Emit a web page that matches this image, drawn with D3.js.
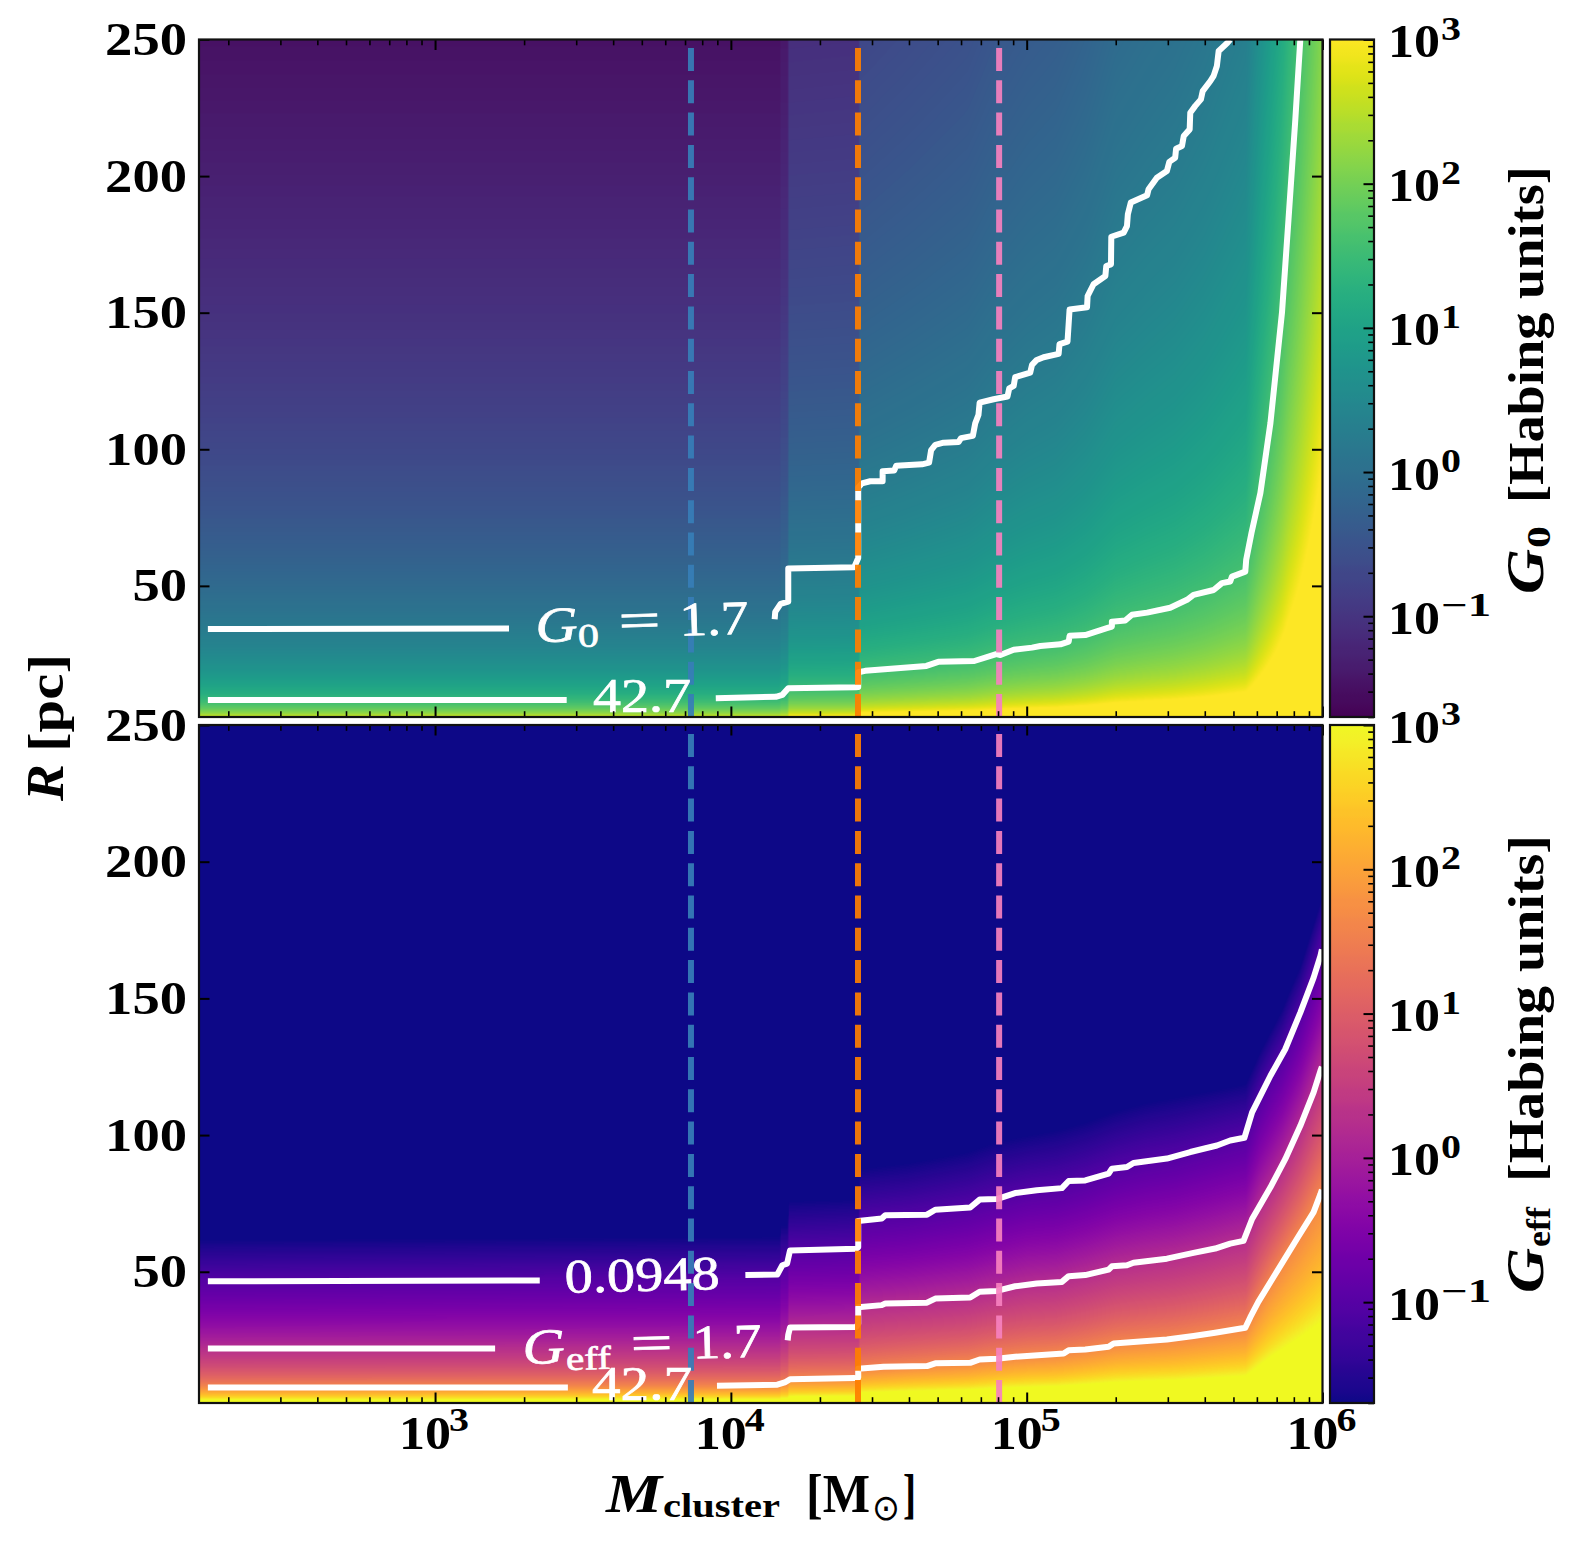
<!DOCTYPE html>
<html>
<head>
<meta charset="utf-8">
<script src="https://cdn.jsdelivr.net/npm/d3@7"></script>
<style>
html,body{margin:0;padding:0;background:#fff}
svg{display:block}
text{font-family:"Liberation Serif",serif;font-weight:bold;fill:#000}
</style>
</head>
<body>
<div id="chart"></div>
<script>
// ---------- values ----------
const massLog = [2.20,4.165,4.17,4.192,4.196,4.432,4.436,4.60,4.80,4.90,5.00,5.10,5.20,5.30,5.40,5.50,5.60,5.74,5.79,5.824,5.863,5.885,5.925,6.00];

// upper panel: log10 G0 per radius row, per mass column
const g0Radii = [2,4,8,16,32,64,125,250];
const g0AtR2   = [2.71,2.71,2.80,2.80,3.13,3.14,3.51,3.58,3.67,3.77,3.84,3.89,3.99,4.13,4.20,4.26,4.35,4.51,4.88,5.11,5.38,5.56,5.83,6.36];
const g0AtR4   = [2.11,2.11,2.20,2.20,2.53,2.54,2.91,2.98,3.07,3.17,3.24,3.29,3.39,3.53,3.60,3.66,3.75,3.91,4.28,4.51,4.78,4.96,5.23,5.76];
const g0AtR8   = [1.50,1.50,1.59,1.59,1.92,1.93,2.30,2.37,2.46,2.56,2.63,2.68,2.78,2.92,2.99,3.05,3.14,3.30,3.67,3.90,4.17,4.35,4.62,5.15];
const g0AtR16  = [0.90,0.90,0.99,0.99,1.32,1.33,1.70,1.77,1.86,1.96,2.03,2.08,2.18,2.32,2.39,2.45,2.54,2.70,3.07,3.30,3.57,3.75,4.02,4.55];
const g0AtR32  = [0.30,0.30,0.39,0.39,0.72,0.73,1.10,1.17,1.26,1.36,1.43,1.48,1.58,1.72,1.79,1.85,1.94,2.10,2.47,2.70,2.97,3.15,3.42,3.95];
const g0AtR64  = [-0.30,-0.30,-0.21,-0.21,0.12,0.13,0.50,0.57,0.66,0.76,0.83,0.88,0.98,1.12,1.19,1.25,1.34,1.50,1.87,2.10,2.37,2.55,2.82,3.35];
const g0AtR125 = [-0.88,-0.88,-0.79,-0.79,-0.46,-0.45,-0.08,-0.01,0.08,0.18,0.25,0.30,0.40,0.54,0.61,0.67,0.76,0.92,1.29,1.52,1.79,1.97,2.24,2.77];
const g0AtR250 = [-1.49,-1.49,-1.40,-1.40,-1.07,-1.06,-0.69,-0.62,-0.53,-0.43,-0.36,-0.31,-0.21,-0.07,0.00,0.06,0.15,0.31,0.68,0.91,1.18,1.36,1.63,2.16];

// lower panel: radius (pc) at which log10 Geff reaches a level, per mass column
const geffLevels = [3,2.67,2,1.63,0.23,-1.023,-1.7];
const geffR3000 = [3.2,3.3,3.7,3.7,4.4,4.5,5.8,6.3,6.8,7.4,7.8,8.1,8.8,9.6,10,10.3,11,11.9,16,18.8,21.6,23.2,26,32];
const geffR267  = [4.0,4.2,4.6,4.6,5.5,5.7,7.3,7.9,8.5,9.3,9.8,10.1,11,12,12.5,12.9,13.7,14.9,20,23.5,27,29,32.5,40];
const geffR200  = [6.4,6.6,7.4,7.4,8.8,9.0,11.6,12.6,13.6,14.8,15.7,16.2,17.5,19.2,19.9,20.6,21.9,23.8,32,37.6,43.2,46.4,52,64];
const geffR163  = [8.0,8.3,9.2,9.2,11,11.3,14.5,15.7,17,18.5,19.6,20.2,21.9,24,24.9,25.8,27.4,29.8,40,47,54,58,65,80];
const geffR023  = [22.2,22.5,25,25,29.8,30,37.5,38.8,41,43.5,45.7,46.6,49.3,52.5,54.3,55.8,58.2,62.3,74.5,80.9,88.7,93.7,103.4,126];
const geffRm102 = [47,48,52,52,58.4,59,69.1,70.5,74,77,79.8,81,84,88,90.8,92.5,95.5,99.5,114,121.7,129,134.6,144.8,170];
const geffRm170 = [62,63,67,67,76,77,88,90,94,98,100,102,105,109,112,114,116,119,131,138,146,152,162,188];

// contours (log10 mass, radius in pc)
const g0c17LeftM = [2.232,3.25], g0c17LeftR = [34.2,34.4];
const g0c17M = [4.148,4.150,4.168,4.194,4.194,4.417,4.4305,4.4305,4.443,4.471,4.513,4.513,4.552,4.559,4.646,4.670,4.677,4.691,4.719,4.770,4.778,4.818,4.826,4.837,4.841,4.888,4.935,4.941,4.956,4.961,5.012,5.018,5.034,5.057,5.108,5.111,5.138,5.145,5.204,5.206,5.226,5.266,5.269,5.285,5.286,5.328,5.339,5.342,5.352,5.407,5.412,5.440,5.474,5.482,5.502,5.505,5.525,5.531,5.551,5.553,5.570,5.589,5.595,5.621,5.632,5.643,5.649,5.677,5.688];
const g0c17R = [37.8,40.5,43.4,44.2,56.4,56.8,60.2,86,87.5,88.3,88.3,92.0,92.2,94.0,94.5,95.1,99.7,101.6,102.4,102.7,104.1,104.9,109.5,112.6,117.1,118.3,119.3,122.3,123.2,126.4,128.1,130.9,132.7,133.7,134.9,138.5,139.4,151.2,152.0,156.1,160.4,163.4,167.1,167.7,177.8,179.3,181.7,186.0,190.3,193.0,195.2,199.4,201.9,205.2,206.7,210.0,211.0,214.7,217.1,223.2,225.7,228.1,231.1,234.8,236.7,240.3,245.8,248.6,250];
const g0c427LeftM = [2.232,3.445], g0c427LeftR = [8.2,8.2];
const g0c427M = [3.949,4.152,4.174,4.194,4.423,4.4305,4.4305,4.454,4.661,4.701,4.823,4.897,4.911,4.956,5.018,5.046,5.114,5.142,5.145,5.198,5.271,5.288,5.288,5.333,5.356,5.407,5.485,5.542,5.564,5.632,5.660,5.688,5.694,5.739,5.742,5.760,5.790,5.824,5.863,5.885,5.908,5.925];
const g0c427R = [8.9,9.4,10.1,12.5,12.9,13.0,18.4,18.9,20.7,22.2,22.5,25.0,24.7,26.6,27.4,28.0,28.6,29.6,31.7,32.0,34.5,35.1,36.9,37.3,39.4,40.2,42.0,44.9,46.7,48.5,51.0,51.6,53.4,55.2,59.5,69.4,84.0,109.6,150,184,220.5,250];

const geffA_LeftM = [2.232,3.354], geffA_LeftR = [46.5,46.8];
const geffA_M = [4.049,4.157,4.174,4.190,4.200,4.424,4.4305,4.4305,4.510,4.522,4.663,4.691,4.809,4.841,4.899,4.961,5.034,5.119,5.142,5.198,5.277,5.288,5.339,5.361,5.474,5.553,5.643,5.688,5.736,5.762,5.824,5.874,5.925,5.970,5.993,5.998];
const geffA_R = [48.8,49,52.4,53,57.8,58.4,59,68.6,69.5,70.7,70.9,72.7,73.5,76.4,76.6,78.8,79.8,80.6,83.2,83.4,85.9,87.7,88.3,89.8,91.4,93.8,96.2,98,99,108.3,121.7,131.4,144.8,157.6,165.5,167.9];
const geffB_LeftM = [2.232,3.203], geffB_LeftR = [21.9,21.9];
const geffB_M = [4.192,4.194,4.200,4.424,4.4305,4.4305,4.510,4.522,4.663,4.691,4.809,4.841,4.899,4.961,5.034,5.119,5.142,5.198,5.277,5.288,5.339,5.361,5.474,5.564,5.637,5.688,5.733,5.762,5.824,5.874,5.925,5.970,5.993,5.998];
const geffB_R = [24.9,27,29.6,29.8,31,37,37.8,38.4,38.7,40.2,40.6,42.7,43,44.7,45.7,46.3,48.4,48.8,50.8,52,52.4,53.3,54.8,56.9,58.5,60.3,61.3,69.3,80.9,91.2,103.4,115.6,123.5,125];
const geffC_LeftM = [2.232,3.449], geffC_LeftR = [7.7,7.7];
const geffC_M = [3.953,4.157,4.182,4.200,4.419,4.4305,4.4305,4.516,4.663,4.691,4.809,4.841,4.899,4.961,5.125,5.142,5.198,5.277,5.294,5.361,5.474,5.564,5.637,5.739,5.756,5.783,5.834,5.918,5.970,5.993,5.998];
const geffC_R = [8.3,8.7,9.5,10.7,11.1,11.3,14.5,15.3,15.5,16.5,16.7,17.9,18.2,18.9,20.1,21.3,21.6,22.6,23.8,24.3,25.2,26.5,27.7,29.5,33.4,39,48,62.8,71.8,78.4,80];

// reference cluster masses (dashed lines)
const refMasses = [7330,26900,80700];
const refColors = ["#377eb8","#ff7f00","#f781bf"];

const rTicks = [50,100,150,200,250];
const massMajor = [1e3,1e4,1e5,1e6];
const massMinor = [2e2,3e2,4e2,5e2,6e2,7e2,8e2,9e2,2e3,3e3,4e3,5e3,6e3,7e3,8e3,9e3,2e4,3e4,4e4,5e4,6e4,7e4,8e4,9e4,2e5,3e5,4e5,5e5,6e5,7e5,8e5,9e5];
const cbMajor = [0.1,1,10,100,1000];
const cbExp = ["\u22121","0","1","2","3"];
const cbMinor = [0.02,0.03,0.04,0.05,0.06,0.07,0.08,0.09,0.2,0.3,0.4,0.5,0.6,0.7,0.8,0.9,2,3,4,5,6,7,8,9,20,30,40,50,60,70,80,90,200,300,400,500,600,700,800,900];
const massLabelExp = ["3","4","5","6"];

// ---------- layout ----------
const W = 1578, H = 1544;
const X0 = 199, X1 = 1322.5;
const topBox = [39.5, 717], botBox = [725, 1403];
const cbX0 = 1330, cbX1 = 1374;
const gMin = 0.02, gMax = 1000, rMin = 2, rMax = 250;

const svg = d3.select("#chart").append("svg").attr("width",W).attr("height",H).attr("viewBox",`0 0 ${W} ${H}`);
const defs = svg.append("defs");

const x = d3.scaleLog().domain([Math.pow(10,2.202),1e6]).range([X0,X1]);
const yTop = d3.scaleLinear().domain([rMin,rMax]).range([topBox[1],topBox[0]]);
const yBot = d3.scaleLinear().domain([rMin,rMax]).range([botBox[1],botBox[0]]);
const cbTop = d3.scaleLog().domain([gMin,gMax]).range([topBox[1],topBox[0]]);
const cbBot = d3.scaleLog().domain([gMin,gMax]).range([botBox[1],botBox[0]]);
const colTop = d3.scaleSequentialLog(d3.interpolateViridis).domain([gMin,gMax]).clamp(true);
const colBot = d3.scaleSequentialLog(d3.interpolatePlasma).domain([gMin,gMax]).clamp(true);

function lut(scale){
  const n = 1024, a = new Uint8Array(n*3);
  const lo = Math.log10(gMin), hi = Math.log10(gMax);
  for(let i=0;i<n;i++){
    const c = d3.rgb(scale(Math.pow(10,lo+(hi-lo)*i/(n-1))));
    a[3*i]=c.r;a[3*i+1]=c.g;a[3*i+2]=c.b;
  }
  return lv=>{
    let k = Math.round((lv-lo)/(hi-lo)*(n-1));
    k = k<0?0:k>n-1?n-1:k;
    return [a[3*k],a[3*k+1],a[3*k+2]];
  };
}
function bracket(arr,v){
  let i = d3.bisectRight(arr,v)-1;
  i = Math.max(0,Math.min(arr.length-2,i));
  return [i,Math.max(0,Math.min(1,(v-arr[i])/(arr[i+1]-arr[i])))];
}
function paint(box,y,fieldForColumn,colorOf){
  const wpx = Math.round(X1-X0), hpx = Math.round(box[1]-box[0]);
  const cv = document.createElement("canvas"); cv.width=wpx; cv.height=hpx;
  const ctx = cv.getContext("2d"), img = ctx.createImageData(wpx,hpx);
  const rowsLogR = d3.range(hpx).map(j=>Math.log10(Math.max(0.5,y.invert(box[0]+(j+0.5)*(box[1]-box[0])/hpx))));
  for(let i=0;i<wpx;i++){
    const lm = Math.log10(x.invert(X0+(i+0.5)*(X1-X0)/wpx));
    const f = fieldForColumn(lm);
    for(let j=0;j<hpx;j++){
      const c = colorOf(f(rowsLogR[j]));
      const o = 4*(j*wpx+i);
      img.data[o]=c[0];img.data[o+1]=c[1];img.data[o+2]=c[2];img.data[o+3]=255;
    }
  }
  ctx.putImageData(img,0,0);
  return cv.toDataURL("image/png");
}

// upper heat map: table of log10 G0
const g0Table = [g0AtR2,g0AtR4,g0AtR8,g0AtR16,g0AtR32,g0AtR64,g0AtR125,g0AtR250];
const g0LogR = g0Radii.map(Math.log10);
function g0Column(lm){
  const [ci,ct] = bracket(massLog,lm);
  const vals = g0Table.map(r=>r[ci]+(r[ci+1]-r[ci])*ct);
  return lr=>{ const [ri,rt]=bracket(g0LogR,lr); return vals[ri]+(vals[ri+1]-vals[ri])*rt; };
}
// lower heat map: table of radii per level
const geffTable = [geffR3000,geffR267,geffR200,geffR163,geffR023,geffRm102,geffRm170];
function geffColumn(lm){
  const [ci,ct] = bracket(massLog,lm);
  const rr = geffTable.map(r=>Math.log10(r[ci]+(r[ci+1]-r[ci])*ct));
  return lr=>{
    if(lr<=rr[0]) return geffLevels[0];
    if(lr>=rr[rr.length-1]) return geffLevels[geffLevels.length-1];
    const [ri,rt]=bracket(rr,lr);
    return geffLevels[ri]+(geffLevels[ri+1]-geffLevels[ri])*rt;
  };
}

function heat(box,y,field,scale){
  svg.append("image").attr("x",X0).attr("y",box[0]).attr("width",X1-X0).attr("height",box[1]-box[0])
    .attr("preserveAspectRatio","none").attr("href",paint(box,y,field,lut(scale)));
}
heat(topBox,yTop,g0Column,colTop);
heat(botBox,yBot,geffColumn,colBot);

// contours
function contour(y,lm,r){
  const pts = lm.map((m,i)=>[Math.pow(10,m),r[i]]);
  svg.append("path").attr("d",d3.line().x(d=>x(d[0])).y(d=>y(d[1]))(pts))
    .attr("fill","none").attr("stroke","#fff").attr("stroke-width",6).attr("stroke-linejoin","round");
}
contour(yTop,g0c17LeftM,g0c17LeftR);
contour(yTop,g0c17M,g0c17R);
contour(yTop,g0c427LeftM,g0c427LeftR);
contour(yTop,g0c427M,g0c427R);
contour(yBot,geffA_LeftM,geffA_LeftR);
contour(yBot,geffA_M,geffA_R);
contour(yBot,geffB_LeftM,geffB_LeftR);
contour(yBot,geffB_M,geffB_R);
contour(yBot,geffC_LeftM,geffC_LeftR);
contour(yBot,geffC_M,geffC_R);

// dashed reference lines, drawn upward from the panel bottom
[[yTop],[yBot]].forEach(([y])=>{
  refMasses.forEach((m,i)=>{
    svg.append("line").attr("x1",x(m)).attr("x2",x(m)).attr("y1",y(rMin)).attr("y2",y(rMax))
      .attr("stroke",refColors[i]).attr("stroke-width",6).attr("stroke-dasharray","23 9.3").attr("opacity",0.92);
  });
});

// text helper
function put(g,s,px,py,size,width,opts){
  opts = opts||{};
  const t = g.append("text").attr("x",px).attr("y",py).attr("font-size",size).text(s);
  if(width) t.attr("textLength",width).attr("lengthAdjust","spacingAndGlyphs");
  if(opts.italic) t.attr("font-style","italic");
  if(opts.fill) t.style("fill",opts.fill);
  if(opts.family) t.style("font-family",opts.family);
  if(opts.normal) t.style("font-weight","normal");
  if(opts.stroke) t.style("stroke",opts.fill||"#000").style("stroke-width",opts.stroke);
  return t;
}

// inline contour labels
const inline = {fill:"#fff",normal:true,stroke:0.7};
function inlineGroup(cx,cy,deg){ return svg.append("g").attr("transform",`rotate(${deg} ${cx} ${cy})`); }
let g1 = inlineGroup(640,637,-1.8);
put(g1,"G",536,639,50,42,Object.assign({italic:true},inline));
put(g1,"0",578,645,33,21,inline);
put(g1,"=",619,637,50,42,inline);
put(g1,"1.7",680,637,48,69,inline);
put(svg,"42.7",593,712,48,98,inline);
let g2 = inlineGroup(640,1290,-1.3);
put(g2,"0.0948",565,1291,48,155,inline);
let g3 = inlineGroup(640,1360,-1.5);
put(g3,"G",523,1361,50,42,Object.assign({italic:true},inline));
put(g3,"eff",566,1368,33,45,inline);
put(g3,"=",631,1360,50,42,inline);
put(g3,"1.7",693,1360,48,69,inline);
put(svg,"42.7",592,1400,48,100,inline);

// axes
function styleAxis(sel,w){ sel.select(".domain").remove(); sel.selectAll(".tick line").attr("stroke","#000").attr("stroke-width",w); }
function addAxis(axis,tx,ty,w){
  return svg.append("g").attr("transform",`translate(${tx},${ty})`).call(axis).call(s=>styleAxis(s,w));
}
[[topBox,yTop],[botBox,yBot]].forEach(([box,y])=>{
  [[d3.axisBottom,box[1]],[d3.axisTop,box[0]]].forEach(([ax,py])=>{
    addAxis(ax(x).tickValues(massMajor).tickSize(-10.5).tickFormat(""),0,py,2);
    addAxis(ax(x).tickValues(massMinor).tickSize(-5.8).tickFormat(""),0,py,1.6);
  });
  addAxis(d3.axisRight(y).tickValues(rTicks).tickSize(-10.5).tickFormat(""),X1,0,2);
  const left = addAxis(d3.axisLeft(y).tickValues(rTicks).tickSize(-10.5).tickPadding(12),X0,0,2);
  left.selectAll("text").attr("font-size",47).each(function(d){
    d3.select(this).attr("textLength",String(d).length*27.3).attr("lengthAdjust","spacingAndGlyphs");
  }).style("fill","#000");
  svg.append("rect").attr("x",X0).attr("y",box[0]).attr("width",X1-X0).attr("height",box[1]-box[0])
    .attr("fill","none").attr("stroke","#111").attr("stroke-width",2.2);
});

// colour bars
function colorbar(id,box,scale,col){
  const gr = defs.append("linearGradient").attr("id",id).attr("x1",0).attr("x2",0).attr("y1",1).attr("y2",0);
  const lo=Math.log10(gMin),hi=Math.log10(gMax);
  d3.range(0,129).forEach(i=>{
    gr.append("stop").attr("offset",i/128).attr("stop-color",col(Math.pow(10,lo+(hi-lo)*i/128)));
  });
  svg.append("rect").attr("x",cbX0).attr("y",box[0]).attr("width",cbX1-cbX0).attr("height",box[1]-box[0]).attr("fill",`url(#${id})`);
  addAxis(d3.axisRight(scale).tickValues(cbMajor).tickSize(-10.5).tickFormat(""),cbX1,0,2);
  addAxis(d3.axisRight(scale).tickValues(cbMinor).tickSize(-5.8).tickFormat(""),cbX1,0,1.6);
  svg.append("rect").attr("x",cbX0).attr("y",box[0]).attr("width",cbX1-cbX0).attr("height",box[1]-box[0])
    .attr("fill","none").attr("stroke","#111").attr("stroke-width",2.2);
  cbMajor.forEach((v,i)=>{
    const py = scale(v);
    put(svg,"10",1388,py+17.5,47,52);
    const neg = cbExp[i].length>1;
    put(svg,cbExp[i],1441,py,33,neg?50:20);
  });
}
colorbar("cbv",topBox,cbTop,colTop);
colorbar("cbp",botBox,cbBot,colBot);

// x tick labels
massMajor.forEach((v,i)=>{
  const px = x(v);
  put(svg,"10",px-36,1449,47,52);
  put(svg,massLabelExp[i],px+14,1431,33,20);
});

// axis titles
const ital = {italic:true};
put(svg,"M",606,1512,54,56,ital);
put(svg,"cluster",663,1516.5,34,117);
put(svg,"[M",806,1512,54,64);
put(svg,"\u2299",872,1520,36,28,{family:"DejaVu Sans",normal:true});
put(svg,"]",903,1512,54,13);

const yl = svg.append("g").attr("transform","translate(63,801) rotate(-90)");
put(yl,"R",0,0,52,37,ital);
put(yl,"[pc]",49,0,50,98);

const r1 = svg.append("g").attr("transform","translate(1543,594) rotate(-90)");
put(r1,"G",0,0,52,45,ital);
put(r1,"0",46,7,34,22);
put(r1,"[Habing units]",91,0,50,337);

const r2 = svg.append("g").attr("transform","translate(1543,1293) rotate(-90)");
put(r2,"G",0,0,52,45,ital);
put(r2,"eff",46,7,34,40);
put(r2,"[Habing units]",111,0,50,347);
</script>
</body>
</html>
